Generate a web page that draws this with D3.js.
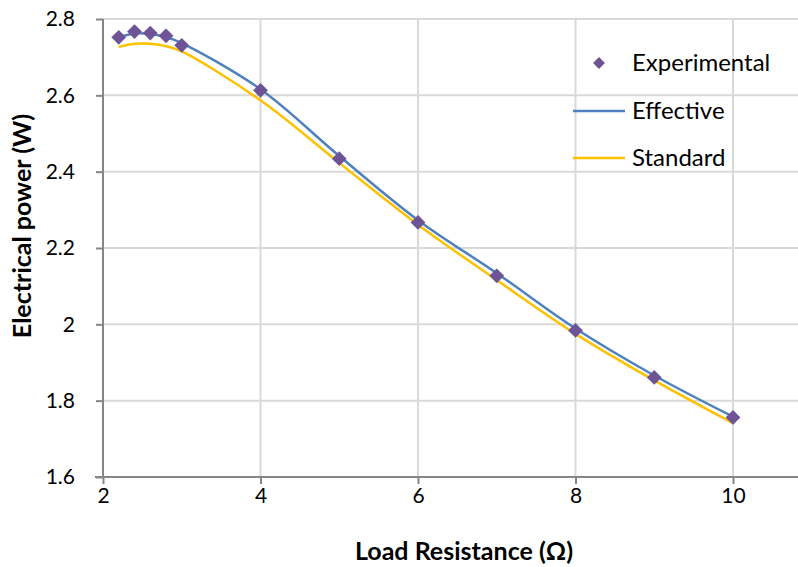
<!DOCTYPE html>
<meta charset="utf-8">
<style>
    body { margin: 0; background: #fff; }
    svg text { font-family: Lato, "Open Sans", sans-serif; fill: #000; }
    .tick-label { font-size: 21px; }
    .axis-title { font-size: 25px; font-weight: bold; }
    .legend-text { font-size: 24px; }
</style>
<body>
<script src="https://cdn.jsdelivr.net/npm/d3@7"></script>
<div id="chart"></div>
<script>
    // load resistance (ohm)
    var resistance = [2.2, 2.4, 2.6, 2.8, 3, 4, 5, 6, 7, 8, 9, 10];
    // measured power (W)
    var experimental = [2.752, 2.767, 2.763, 2.756, 2.731, 2.613, 2.434, 2.267, 2.127, 1.984, 1.861, 1.756];
    // model curves
    var effective = [2.752, 2.762, 2.761, 2.753, 2.737, 2.616, 2.441, 2.273, 2.134, 1.989, 1.866, 1.758];
    var standard = [2.727, 2.735, 2.735, 2.729, 2.715, 2.587, 2.423, 2.261, 2.116, 1.975, 1.853, 1.741];

    var xTicks = [2, 4, 6, 8, 10];
    var yTicks = [1.6, 1.8, 2, 2.2, 2.4, 2.6, 2.8];

    var width = 798, height = 567;
    var plotLeft = 103, plotTop = 19, plotBottom = 477;

    var svg = d3.select("#chart").append("svg")
        .attr("width", width)
        .attr("height", height);

    var x = d3.scaleLinear().domain([2, 10]).range([plotLeft, 733]);
    var y = d3.scaleLinear().domain([1.6, 2.8]).range([plotBottom, plotTop]);

    // gridlines
    svg.append("g").selectAll("line")
        .data(yTicks.slice(1))
        .enter().append("line")
        .attr("x1", plotLeft).attr("x2", width)
        .attr("y1", d => y(d)).attr("y2", d => y(d))
        .style("stroke", "#d9d9d9").style("stroke-width", 2);

    svg.append("g").selectAll("line")
        .data(xTicks.slice(1))
        .enter().append("line")
        .attr("x1", d => x(d)).attr("x2", d => x(d))
        .attr("y1", plotTop).attr("y2", plotBottom)
        .style("stroke", "#d9d9d9").style("stroke-width", 2);

    // axes
    var xAxis = svg.append("g")
        .attr("transform", "translate(0," + plotBottom + ")")
        .call(d3.axisBottom(x).tickValues(xTicks).tickSize(7).tickSizeOuter(0).tickPadding(4).tickFormat(d3.format("d")));
    xAxis.select(".domain").attr("d", "M" + (plotLeft - 8) + ",0H" + width);

    var yAxis = svg.append("g")
        .attr("transform", "translate(" + plotLeft + ",0)")
        .call(d3.axisLeft(y).tickValues(yTicks).tickSize(7).tickSizeOuter(0).tickPadding(21).tickFormat(d => d3.format("~g")(d)));
    yAxis.select(".domain").attr("d", "M0," + plotTop + "V" + plotBottom);

    svg.selectAll("g[font-family]").attr("font-family", null).attr("font-size", null);
    svg.selectAll(".domain").style("stroke", "#868686").style("stroke-width", 2);
    svg.selectAll(".tick line").style("stroke", "#868686").style("stroke-width", 2);
    svg.selectAll(".tick text").attr("class", "tick-label");

    // lines
    var line = d3.line()
        .x((d, i) => x(resistance[i]))
        .y(d => y(d))
        .curve(d3.curveCatmullRom.alpha(0.5));

    svg.append("path")
        .datum(standard)
        .attr("d", line)
        .style("fill", "none").style("stroke", "#ffc000").style("stroke-width", 2.5);

    svg.append("path")
        .datum(effective)
        .attr("d", line)
        .style("fill", "none").style("stroke", "#4f81bd").style("stroke-width", 2.5);

    var diamond = d3.symbol().type(d3.symbolDiamond2).size(140);

    svg.append("g").selectAll("path")
        .data(experimental)
        .enter().append("path")
        .attr("d", diamond)
        .attr("transform", (d, i) => "translate(" + x(resistance[i]) + "," + y(d) + ")")
        .style("fill", "#6e5497");

    // axis titles
    svg.append("text")
        .attr("class", "axis-title")
        .attr("x", 464)
        .attr("y", 560)
        .attr("text-anchor", "middle")
        .text("Load Resistance (Ω)");

    svg.append("text")
        .attr("class", "axis-title")
        .attr("transform", "translate(31,226) rotate(-90)")
        .attr("text-anchor", "middle")
        .text("Electrical power (W)");

    // legend
    var lg = svg.append("g");
    lg.append("path")
        .attr("d", d3.symbol().type(d3.symbolDiamond2).size(90))
        .attr("transform", "translate(599,63)")
        .style("fill", "#6e5497");
    lg.append("line").attr("x1", 573).attr("x2", 625).attr("y1", 111).attr("y2", 111)
        .style("stroke", "#4f81bd").style("stroke-width", 2.5);
    lg.append("line").attr("x1", 573).attr("x2", 625).attr("y1", 158).attr("y2", 158)
        .style("stroke", "#ffc000").style("stroke-width", 2.5);
    var names = ["Experimental", "Effective", "Standard"];
    lg.selectAll("text")
        .data(names)
        .enter().append("text")
        .attr("class", "legend-text")
        .attr("x", 632)
        .attr("y", (d, i) => 63 + i * 47.5)
        .attr("dy", "0.35em")
        .text(d => d);
</script>
</body>
